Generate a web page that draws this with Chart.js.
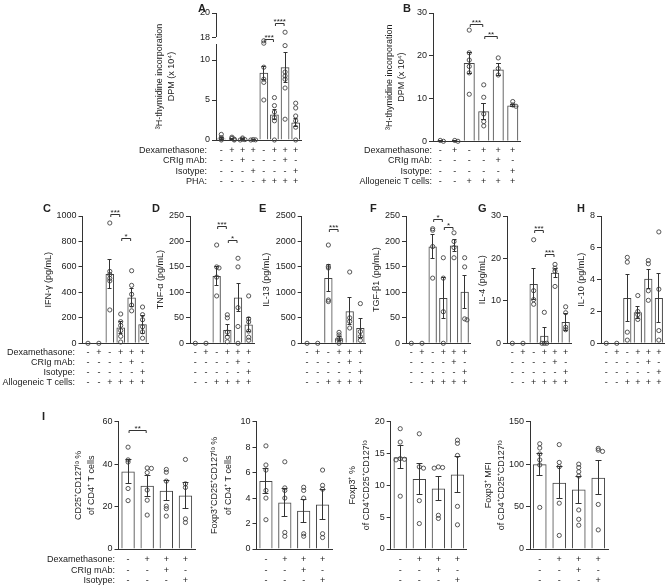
<!DOCTYPE html>
<html><head><meta charset="utf-8">
<script src="https://cdn.jsdelivr.net/npm/chart.js@4.4.0/dist/chart.umd.min.js"></script>
<style>
html,body{margin:0;padding:0;background:#fff;}
#wrap{position:relative;width:669px;height:588px;overflow:hidden;background:#fff;}
canvas{position:absolute;left:0;top:0;}
</style></head><body><div id="wrap"></div>
<script>
// ---------- DATA ----------
const rowsA = ['Dexamethasone:', 'CRIg mAb:', 'Isotype:', 'PHA:'];
const rowsAllo = ['Dexamethasone:', 'CRIg mAb:', 'Isotype:', 'Allogeneic T cells:'];
const rowsI = ['Dexamethasone:', 'CRIg mAb:', 'Isotype:'];
const signsA = [['-','+','+','+','-','+','+','+'], ['-','-','+','-','-','-','+','-'], ['-','-','-','+','-','-','-','+'], ['-','-','-','-','+','+','+','+']];
const signsAllo = [['-','+','-','+','+','+'], ['-','-','-','-','+','-'], ['-','-','-','-','-','+'], ['-','-','+','+','+','+']];
const signsI = [['-','+','+','+'], ['-','-','+','-'], ['-','-','-','+']];

const aLowTicks = [0, 5, 10];
const aUpTicks = [18, 20];
const aMeans = [0.2, 0.1, 0.08, 0.03, 8.4, 3.2, 9.1, 2.2];
const aSem = [0.12, 0.06, 0.05, 0.02, 0.8, 0.6, 1.9, 0.5];
const aPoints = [[0.7, 0.3, 0.15, 0], [0.35, 0.2, 0.1, 0], [0.25, 0.1, 0.05, 0], [0.05, 0.02, 0], [12.4, 12.1, 9.1, 7.6, 7.2, 5.0], [5.3, 4.3, 3.5, 2.8, 2.4, 0], [18.4, 11.8, 8.5, 8.0, 7.6, 6.5, 2.6], [4.6, 4.0, 3.0, 2.4, 1.6, 0]];
const aSig = [[4, 5, 12.6, '***', 'yl'], [5, 6, 19.1, '****', 'yu']];

const bMeans = [0.1, 0.1, 18.3, 7.0, 16.8, 8.4];
const bSem = [0.05, 0.05, 2.5, 1.9, 1.4, 0.3];
const bPoints = [[0.2, 0], [0.2, 0], [26, 20.7, 19, 17.5, 16, 11], [13.2, 10.3, 6.4, 4.6, 3.6], [19.5, 17.0, 15.5], [9.3, 8.5, 8.2]];
const bSig = [[2, 3, 27.4, '***'], [3, 4, 24.5, '**']];

const cMeans = [0, 0, 545, 125, 360, 150];
const cSem = [0, 0, 115, 45, 72, 72];
const cPoints = [[0], [0], [945, 565, 540, 510, 490, 262], [230, 170, 140, 100, 55, 10], [570, 455, 385, 300, 255], [285, 225, 185, 130, 90, 40]];
const cSig = [[2, 3, 1010, '***'], [3, 4, 827, '*']];

const dMeans = [0, 0, 132, 26, 90, 37];
const dSem = [0, 0, 19, 10, 28, 14];
const dPoints = [[0], [0], [193, 150, 148, 130, 93], [56, 50, 22, 12, 3], [167, 150, 70, 33, 0], [93, 48, 42, 24, 12, 6]];
const dSig = [[2, 3, 230, '***'], [3, 4, 201, '*']];

const eMeans = [0, 0, 1280, 100, 630, 300];
const eSem = [0, 0, 270, 40, 260, 180];
const ePoints = [[0], [0], [1930, 1510, 1480, 850, 820], [215, 165, 110, 65, 0], [1400, 500, 430, 300], [780, 230, 130, 60]];
const eSig = [[2, 3, 2230, '***']];

const fMeans = [0, 0, 190, 89, 192, 101];
const fSem = [0, 0, 23, 40, 12, 32];
const fPoints = [[0], [0], [225, 222, 190, 128], [168, 128, 62, 0], [217, 200, 188, 168], [168, 150, 48, 46]];
const fSig = [[2, 3, 244, '*'], [3, 4, 228, '*']];

const gMeans = [0, 0, 14, 1.8, 16.6, 5];
const gSem = [0, 0, 3.7, 1.9, 1.1, 2.1];
const gPoints = [[0], [0], [24.4, 12.4, 10.3, 9.2], [7.3, 0, 0, 0], [18.6, 17.7, 17.0, 13.4], [8.6, 7.2, 3.8, 3.2]];
const gSig = [[2, 3, 26.5, '***'], [3, 4, 21, '***']];

const hMeans = [0, 0, 2.85, 1.95, 4.05, 2.85];
const hSem = [0, 0, 1.45, 0.37, 0.6, 1.55];
const hPoints = [[0], [0], [5.4, 5.1, 0.7, 0.2], [3.0, 2.0, 1.8, 1.5], [5.2, 5.0, 3.3, 2.7], [7.0, 3.4, 0.8, 0.2]];

const i1Means = [36.5, 29.8, 27.5, 25.2];
const i1Sem = [5.5, 5, 4.8, 6];
const i1Points = [[48, 42, 41, 28.5, 22.8], [38.2, 38, 36, 27.8, 23, 16], [37.5, 36.2, 32, 20.2, 19, 15.5], [42.2, 30.7, 29, 14.2, 12.5]];
const i1Sig = [[0, 1, 56, '**']];

const i2Means = [5.35, 3.65, 3.0, 3.5];
const i2Sem = [1.0, 1.1, 0.9, 1.2];
const i2Points = [[8.1, 6.6, 6.2, 4.6, 4.0, 2.3], [6.85, 4.8, 4.6, 4.0, 1.3, 1.0], [4.85, 4.6, 4.0, 1.2, 1.0], [6.2, 5.0, 4.7, 1.2, 0.9]];

const i3Means = [14.4, 11, 9.5, 11.7];
const i3Sem = [1.8, 2.4, 1.9, 2.8];
const i3Points = [[18.9, 16.8, 14.2, 14.1, 14.0, 8.3], [18.1, 12.9, 12.7, 7.6, 4.0], [12.9, 12.8, 12.7, 5.3, 4.8], [17.1, 16.6, 14.7, 6.7, 3.8]];

const i4Means = [100, 78, 70, 84];
const i4Sem = [13, 19, 16, 20];
const i4Points = [[124, 119, 112, 105, 99, 49], [123, 102, 97, 54, 16], [100, 96, 91, 86, 46, 35, 28], [118.5, 116.5, 115, 52.5, 22.5]];

// ---------- RENDERING ----------
const W = 669, H = 588;
const FONT = '"Liberation Sans", Arial, Helvetica, sans-serif';
Chart.defaults.font.family = FONT;
Chart.defaults.font.size = 9;
Chart.defaults.color = '#222';
const INK = '#333';

function spread(vals, tol) {
  const placed = [];
  return vals.map(v => {
    const k = placed.filter(u => Math.abs(u - v) < tol).length;
    placed.push(v);
    return k === 0 ? 0 : (k % 2 ? 0.22 : -0.22) * Math.ceil(k / 2);
  });
}
function alignPx(p) { return Math.round(p - 0.5) + 0.5; }

const decor = {
  id: 'decor',
  afterDatasetsDraw(chart, args, o) {
    const ctx = chart.ctx;
    const xs = chart.scales.x;
    const ys = chart.scales[o.yId];
    const meta = chart.getDatasetMeta(0);
    ctx.save();
    ctx.strokeStyle = INK; ctx.lineWidth = 1;
    meta.data.forEach((el, i) => {
      const m = o.means[i], s = o.sem[i];
      if (!s) return;
      const cx = alignPx(el.x), hw = Math.max(2, el.width * 0.22);
      const y1 = alignPx(ys.getPixelForValue(m + s));
      const y0 = alignPx(ys.getPixelForValue(Math.max(m - s, 0)));
      ctx.beginPath();
      ctx.moveTo(cx, y0); ctx.lineTo(cx, y1);
      ctx.moveTo(cx - hw, y1); ctx.lineTo(cx + hw, y1);
      ctx.moveTo(cx - hw, y0); ctx.lineTo(cx + hw, y0);
      ctx.stroke();
    });
    (o.sig || []).forEach(b => {
      const sc = chart.scales[b[4] || o.yId];
      const y = alignPx(sc.getPixelForValue(b[2]));
      const xa = xs.getPixelForValue(b[0]) + 1, xb = xs.getPixelForValue(b[1]) - 1;
      ctx.beginPath();
      ctx.moveTo(xa, y + 2.5); ctx.lineTo(xa, y); ctx.lineTo(xb, y); ctx.lineTo(xb, y + 2.5);
      ctx.stroke();
      ctx.font = '8px ' + FONT; ctx.fillStyle = '#222';
      ctx.textAlign = 'center'; ctx.textBaseline = 'alphabetic';
      ctx.fillText(b[3], (xa + xb) / 2, y + 0.5);
    });
    if (o.breakAxis) {
      const yu = chart.scales.yu;
      const bx = alignPx(chart.chartArea.left);
      ctx.beginPath();
      ctx.moveTo(bx, yu.getPixelForValue(o.breakAxis[1]));
      ctx.lineTo(bx, yu.getPixelForValue(o.breakAxis[0]));
      ctx.stroke();
    }
    ctx.fillStyle = '#222';
    ctx.font = '9px ' + FONT;
    ctx.textAlign = 'right'; ctx.textBaseline = 'middle';
    (o.rows || []).forEach((t, i) => {
      ctx.fillText(t, o.labelRight, xs.top + o.xPad + o.rowLH * (i + 0.5));
    });
    if (o.letter) {
      ctx.font = 'bold 11px ' + FONT;
      ctx.textAlign = 'left'; ctx.textBaseline = 'middle';
      ctx.fillText(o.letter[0], o.letter[1], o.letter[2]);
    }
    ctx.restore();
  }
};

const plainNum = v => String(v);

function makePanel(p) {
  const canvas = document.createElement('canvas');
  canvas.width = W; canvas.height = H;
  document.getElementById('wrap').appendChild(canvas);
  const labels = p.signs[0].map((_, i) => p.signs.map(row => row[i]));
  const titleLH = 9 * p.tlh;
  const padLeft = p.titleX - titleLH / 2;
  const xH = 52;
  const xPad = p.rowFirst - p.rowLH / 2;
  const yMain = p.broken ? 'yl' : 'y';
  const range = p.broken ? p.broken.lowMax : p.max;
  const lowPts = [], upPts = [];
  p.points.forEach((vals, i) => {
    const dx = spread(vals, range * 0.012);
    vals.forEach((v, k) => {
      const pt = {x: i + dx[k], y: v};
      if (p.broken && v > p.broken.split) upPts.push(pt); else lowPts.push(pt);
    });
  });
  const ptStyle = {type: 'scatter', xAxisID: 'x', parsing: false, pointRadius: 2.1, pointBorderWidth: 0.9,
    pointBorderColor: '#444', pointBackgroundColor: 'rgba(0,0,0,0)', order: 1, clip: false};
  const datasets = [
    {type: 'bar', data: p.means, xAxisID: 'x', yAxisID: yMain, backgroundColor: 'rgba(255,255,255,0)',
      borderColor: '#444', borderWidth: 1, barPercentage: p.barPct, categoryPercentage: 1, order: 2},
    Object.assign({data: lowPts, yAxisID: yMain}, ptStyle)
  ];
  if (p.broken) datasets.push(Object.assign({data: upPts, yAxisID: 'yu'}, ptStyle));

  const grid = {display: true, drawOnChartArea: false, drawTicks: true, tickLength: 4, color: INK, lineWidth: 1};
  const border = {display: true, color: INK, width: 1};
  const titleOpt = {display: true, text: p.title, color: '#222', font: {size: 9, lineHeight: p.tlh}, padding: {top: 0, bottom: 0}};
  const scales = {
    x: {type: 'category', position: 'bottom', offset: true,
      grid: {display: false, drawTicks: false}, border: border,
      ticks: {autoSkip: false, maxRotation: 0, minRotation: 0, padding: xPad, color: '#222',
        font: {size: 9, lineHeight: p.rowLH / 9}},
      afterFit: s => { s.height = xH; }}
  };
  if (!p.broken) {
    scales.y = {type: 'linear', position: 'left', min: 0, max: p.max,
      ticks: {stepSize: p.step, padding: 2, color: '#222', font: {size: 9}, callback: plainNum},
      grid: grid, border: border, title: titleOpt,
      afterFit: s => { s.width = p.L - padLeft; }};
  } else {
    const wy = 24;
    const b = p.broken;
    scales.yt = {type: 'linear', position: 'left', weight: 3, min: 0, max: 1,
      ticks: {display: false}, grid: {display: false, drawTicks: false}, border: {display: false},
      title: titleOpt, afterFit: s => { s.width = p.L - padLeft - wy; }};
    scales.yu = {type: 'linear', position: 'left', weight: 2, stack: 'brk', stackWeight: b.upW,
      min: b.upMin, max: b.upMax, ticks: {padding: 2, color: '#222', font: {size: 9}, callback: plainNum},
      afterBuildTicks: s => { s.ticks = b.upTicks.map(v => ({value: v})); },
      grid: grid, border: {display: false}, afterFit: s => { s.width = wy; }};
    scales.yl = {type: 'linear', position: 'left', weight: 1, stack: 'brk', stackWeight: b.lowW,
      min: 0, max: b.lowMax, ticks: {stepSize: 5, padding: 2, color: '#222', font: {size: 9}, callback: plainNum},
      afterBuildTicks: s => { s.ticks = s.ticks.filter(t => b.lowTicks.includes(t.value)); },
      grid: grid, border: border, afterFit: s => { s.width = wy; }};
  }
  new Chart(canvas, {
    type: 'bar',
    data: {labels: labels, datasets: datasets},
    options: {
      responsive: false, animation: false, devicePixelRatio: 1,
      layout: {padding: {left: padLeft, top: p.T, right: W - p.R, bottom: H - p.B - xH}},
      plugins: {legend: {display: false}, tooltip: {enabled: false},
        decor: {yId: yMain, means: p.means, sem: p.sem, sig: p.sig, rows: p.rows, labelRight: p.labelRight,
          xPad: xPad, rowLH: p.rowLH, letter: p.letter,
          breakAxis: p.broken ? [p.broken.upTicks[0], p.broken.upMax] : null}},
      scales: scales
    },
    plugins: [decor]
  });
}

const thymTitle = ['³H-thymidine incorporation', 'DPM (x 10⁴)'];
const rowC = {T: 216, B: 343.3, rowLH: 10, rowFirst: 9.6, tlh: 1.25, barPct: 0.78};
const rowI = {T: 421.7, B: 549, rowLH: 10.8, rowFirst: 10.3, tlh: 1.48, barPct: 0.7};

makePanel({means: aMeans, sem: aSem, points: aPoints, sig: aSig, signs: signsA, rows: rowsA, title: thymTitle,
  broken: {lowMax: 12, upMin: 17.42, upMax: 20, split: 15, lowTicks: aLowTicks, upTicks: aUpTicks, upW: 31, lowW: 96},
  L: 216, R: 301, T: 13, B: 140, titleX: 160, tlh: 1.3, labelRight: 207, rowLH: 10.4, rowFirst: 10.5, barPct: 0.82,
  letter: ['A', 198, 9]});
makePanel({means: bMeans, sem: bSem, points: bPoints, sig: bSig, signs: signsAllo, rows: rowsAllo, title: thymTitle,
  max: 30, step: 10, L: 433, R: 520, T: 13, B: 141.3, titleX: 390, tlh: 1.3, labelRight: 432, rowLH: 10.5, rowFirst: 9.2,
  barPct: 0.76, letter: ['B', 403, 9]});
makePanel(Object.assign({}, rowC, {means: cMeans, sem: cSem, points: cPoints, sig: cSig, signs: signsAllo, rows: rowsAllo,
  title: 'IFN-γ (pg/mL)', max: 1000, step: 200, L: 82.5, R: 148, titleX: 49, labelRight: 75, letter: ['C', 43, 208.5]}));
makePanel(Object.assign({}, rowC, {means: dMeans, sem: dSem, points: dPoints, sig: dSig, signs: signsAllo,
  title: 'TNF-α (pg/mL)', max: 250, step: 50, L: 190, R: 254, titleX: 160.7, letter: ['D', 152, 208.5]}));
makePanel(Object.assign({}, rowC, {means: eMeans, sem: eSem, points: ePoints, sig: eSig, signs: signsAllo,
  title: 'IL-13 (pg/mL)', max: 2500, step: 500, L: 301.7, R: 365.7, titleX: 266.7, letter: ['E', 259, 208.5]}));
makePanel(Object.assign({}, rowC, {means: fMeans, sem: fSem, points: fPoints, sig: fSig, signs: signsAllo,
  title: 'TGF-β1 (pg/mL)', max: 250, step: 50, L: 406, R: 470, titleX: 376.7, letter: ['F', 370, 208.5]}));
makePanel(Object.assign({}, rowC, {means: gMeans, sem: gSem, points: gPoints, sig: gSig, signs: signsAllo,
  title: 'IL-4 (pg/mL)', max: 30, step: 10, L: 507, R: 571, titleX: 483, letter: ['G', 478, 208.5]}));
makePanel(Object.assign({}, rowC, {means: hMeans, sem: hSem, points: hPoints, signs: signsAllo,
  title: 'IL-10 (pg/mL)', max: 8, step: 2, L: 601, R: 665, titleX: 581.7, letter: ['H', 577, 208.5]}));
makePanel(Object.assign({}, rowI, {means: i1Means, sem: i1Sem, points: i1Points, sig: i1Sig, signs: signsI, rows: rowsI,
  title: ['CD25⁺CD127ˡᵒ %', 'of CD4⁺ T cells'], max: 60, step: 20, L: 118.5, R: 195, titleX: 78.3, labelRight: 115,
  letter: ['I', 42, 417]}));
makePanel(Object.assign({}, rowI, {means: i2Means, sem: i2Sem, points: i2Points, signs: signsI,
  title: ['Foxp3⁺CD25⁺CD127ˡᵒ %', 'of CD4⁺ T cells'], max: 10, step: 2, L: 256.5, R: 332, titleX: 215}));
makePanel(Object.assign({}, rowI, {means: i3Means, sem: i3Sem, points: i3Points, signs: signsI,
  title: ['Foxp3⁺ %', 'of CD4⁺CD25⁺CD127ˡᵒ'], max: 20, step: 5, L: 390.7, R: 467, titleX: 352.7}));
makePanel(Object.assign({}, rowI, {means: i4Means, sem: i4Sem, points: i4Points, signs: signsI,
  title: ['Foxp3⁺ MFI', 'of CD4⁺CD25⁺CD127ˡᵒ'], max: 150, step: 50, L: 530, R: 608, titleX: 488.3}));
</script></body></html>
